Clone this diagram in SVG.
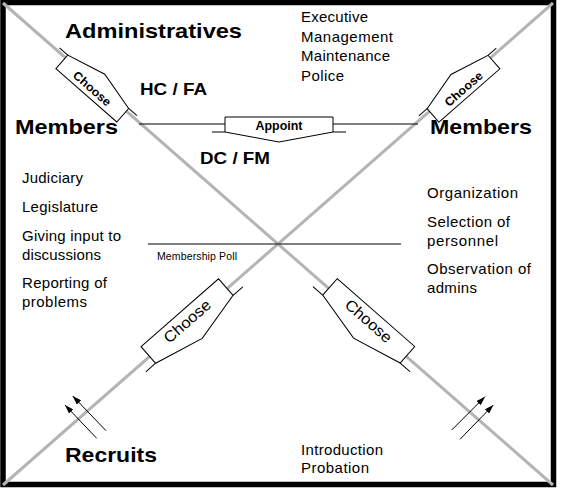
<svg xmlns="http://www.w3.org/2000/svg" width="571" height="490" viewBox="0 0 571 490">
<style>
.reg{font-family:"Liberation Sans",Arial,sans-serif;font-size:15px;fill:#000}
.bold{font-family:"Liberation Sans",Arial,sans-serif;font-weight:bold;fill:#000}
.diag{stroke:#b4b4b4;stroke-width:3;fill:none}
.thin{stroke:#000;stroke-width:1;fill:none}
.callout{fill:#fff;stroke:#000;stroke-width:1}
.arr{stroke:#000;stroke-width:1;fill:none;marker-end:url(#ah)}
</style>
<defs>
<marker id="ah" markerUnits="userSpaceOnUse" markerWidth="9" markerHeight="6" refX="9" refY="3" orient="auto">
<path d="M0,0 L9,3 L0,6 Z" fill="#000"/>
</marker>
</defs>
<rect width="571" height="490" fill="#fff"/>
<rect id="frame" x="3" y="2.5" width="550.5" height="482" fill="none" stroke="#000" stroke-width="5.5"/>
<g id="connectors">
<line class="diag" x1="3" y1="3" x2="553" y2="485"/>
<line class="diag" x1="553" y1="3" x2="3" y2="485"/>
<line class="thin" x1="139" y1="124" x2="225" y2="124"/>
<line class="thin" x1="333" y1="124" x2="418" y2="124"/>
<line class="thin" x1="148" y1="244" x2="401" y2="244"/>
<line class="arr" x1="96.7" y1="438.3" x2="65" y2="405"/>
<line class="arr" x1="106" y1="430.7" x2="72.7" y2="396"/>
<line class="arr" x1="451.7" y1="430" x2="485" y2="396.7"/>
<line class="arr" x1="460" y1="439.3" x2="493.3" y2="405"/>
</g>
<g id="choose-top-left" transform="translate(3,3) rotate(41.23)">
<path class="callout" d="M83,14.5 H164 V-3.5 L123.5,-13.5 L83,-3.5 Z"/>
<path class="thin" d="M72,-3.5 H83 M164,-3.5 H175"/>
<text class="bold" x="123.5" y="9.8" font-size="12" text-anchor="middle" textLength="46" lengthAdjust="spacingAndGlyphs">Choose</text>
</g>
<g id="choose-top-right" transform="translate(3,485) rotate(-41.23)">
<path class="callout" d="M567,14.5 H648 V-3.5 L607.5,-13.5 L567,-3.5 Z"/>
<path class="thin" d="M556,-3.5 H567 M648,-3.5 H659"/>
<text class="bold" x="607.5" y="9.8" font-size="12" text-anchor="middle" textLength="46" lengthAdjust="spacingAndGlyphs">Choose</text>
</g>
<g id="choose-bottom-left" transform="translate(3,485) rotate(-41.23)">
<path class="callout" d="M195,-13 H298 V9 L246.5,21 L195,9 Z"/>
<path class="thin" d="M182,9 H195 M298,9 H311"/>
<text class="reg" x="246.5" y="3.5" text-anchor="middle" textLength="57" lengthAdjust="spacingAndGlyphs" style="font-size:15.5px">Choose</text>
</g>
<g id="choose-bottom-right" transform="translate(3,3) rotate(41.23)">
<path class="callout" d="M433,-13 H536 V9 L484.5,21 L433,9 Z"/>
<path class="thin" d="M420,9 H433 M536,9 H549"/>
<text class="reg" x="484.5" y="3.5" text-anchor="middle" textLength="57" lengthAdjust="spacingAndGlyphs" style="font-size:15.5px">Choose</text>
</g>
<g id="appoint">
<path class="callout" d="M225,117 H333 V132 L279,142 L225,132 Z"/>
<path class="thin" d="M212,132 H225 M333,132 H346"/>
<text class="bold" x="279" y="130" font-size="12.5" text-anchor="middle" textLength="47" lengthAdjust="spacingAndGlyphs">Appoint</text>
</g>
<g id="administratives">
<text class="bold" x="65" y="38" font-size="21" textLength="177" lengthAdjust="spacingAndGlyphs">Administratives</text>
<text class="reg" x="301" y="22" textLength="67" lengthAdjust="spacing">Executive</text>
<text class="reg" x="301" y="41.5" textLength="92" lengthAdjust="spacing">Management</text>
<text class="reg" x="301" y="61" textLength="89" lengthAdjust="spacing">Maintenance</text>
<text class="reg" x="301" y="80.5" textLength="43" lengthAdjust="spacing">Police</text>
</g>
<g id="hc-fa"><text class="bold" x="140" y="95" font-size="17" textLength="67" lengthAdjust="spacingAndGlyphs">HC / FA</text></g>
<g id="dc-fm"><text class="bold" x="200" y="164" font-size="17" textLength="70" lengthAdjust="spacingAndGlyphs">DC / FM</text></g>
<g id="members-left">
<text class="bold" x="15" y="134" font-size="21" textLength="103" lengthAdjust="spacingAndGlyphs">Members</text>
<text class="reg" x="22" y="183" textLength="61" lengthAdjust="spacing">Judiciary</text>
<text class="reg" x="22" y="212" textLength="76" lengthAdjust="spacing">Legislature</text>
<text class="reg" x="22" y="241" textLength="99" lengthAdjust="spacing">Giving input to</text>
<text class="reg" x="22" y="259.5" textLength="79" lengthAdjust="spacing">discussions</text>
<text class="reg" x="22" y="288" textLength="85" lengthAdjust="spacing">Reporting of</text>
<text class="reg" x="22" y="307" textLength="65" lengthAdjust="spacing">problems</text>
</g>
<g id="members-right">
<text class="bold" x="430" y="134" font-size="21" textLength="102" lengthAdjust="spacingAndGlyphs">Members</text>
<text class="reg" x="427" y="198" textLength="91" lengthAdjust="spacing">Organization</text>
<text class="reg" x="427" y="227" textLength="83" lengthAdjust="spacing">Selection of</text>
<text class="reg" x="427" y="246" textLength="71" lengthAdjust="spacing">personnel</text>
<text class="reg" x="427" y="274" textLength="104" lengthAdjust="spacing">Observation of</text>
<text class="reg" x="427" y="293" textLength="50" lengthAdjust="spacing">admins</text>
</g>
<g id="membership-poll"><text class="reg" x="157" y="260" textLength="80" lengthAdjust="spacing" style="font-size:10.5px">Membership Poll</text></g>
<g id="recruits">
<text class="bold" x="65" y="462" font-size="21" textLength="92" lengthAdjust="spacingAndGlyphs">Recruits</text>
<text class="reg" x="301" y="455" textLength="82" lengthAdjust="spacing">Introduction</text>
<text class="reg" x="301" y="473" textLength="68" lengthAdjust="spacing">Probation</text>
</g>
</svg>
